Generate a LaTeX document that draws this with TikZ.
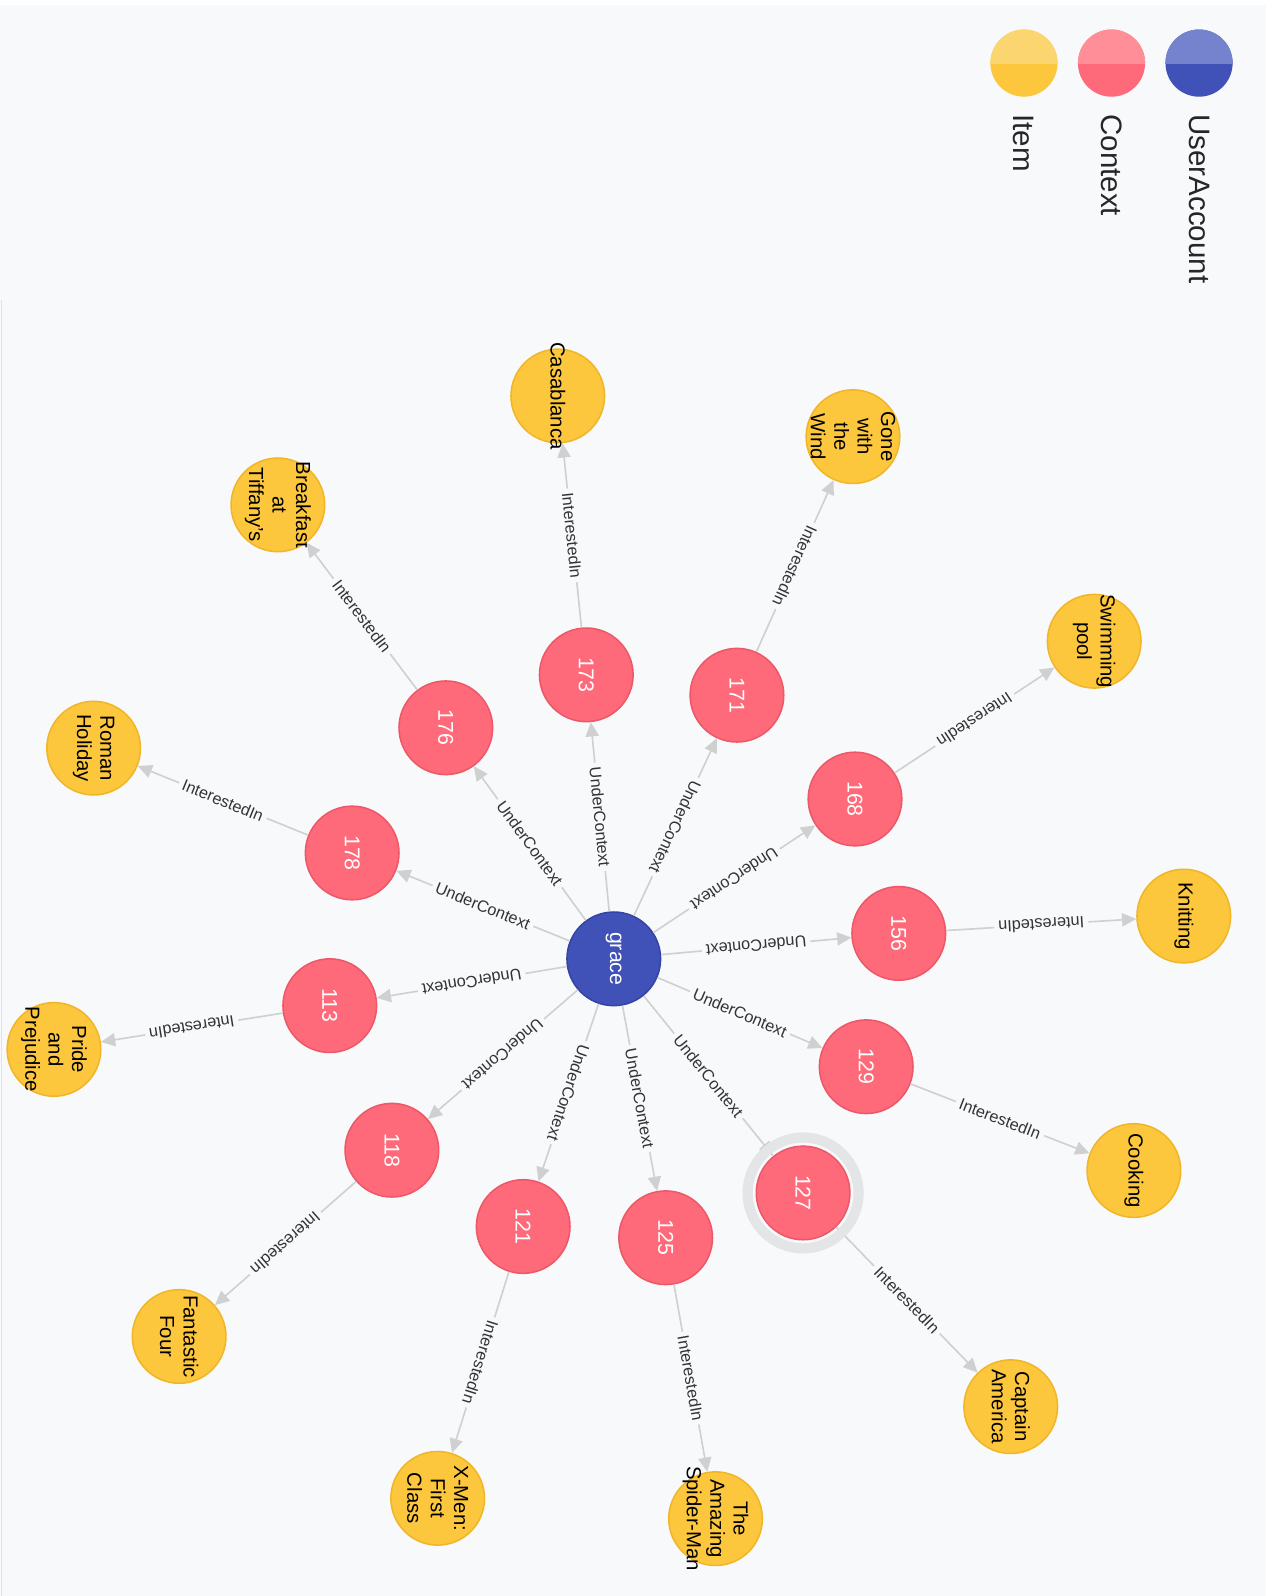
\documentclass[tikz,border=0pt]{standalone}
\usepackage{fontspec}
\setmainfont{Liberation Sans}
\usetikzlibrary{arrows.meta, positioning, calc}
\definecolor{CanvasBg}{RGB}{248,249,250}
\definecolor{ItemFill}{RGB}{252,199,61}
\definecolor{ItemLine}{RGB}{240,182,40}
\definecolor{ItemLight}{RGB}{251,214,112}
\definecolor{CtxFill}{RGB}{255,106,122}
\definecolor{CtxLine}{RGB}{236,88,104}
\definecolor{CtxLight}{RGB}{255,142,153}
\definecolor{UserFill}{RGB}{64,82,183}
\definecolor{UserLine}{RGB}{52,68,164}
\definecolor{UserLight}{RGB}{117,130,206}
\definecolor{RelGray}{RGB}{208,208,208}
\definecolor{RingGray}{RGB}{228,229,231}

\tikzset{
  ctx/.style={circle, minimum size=92pt, inner sep=0pt, fill=CtxFill, draw=CtxLine,
    line width=1.5pt, text=white, rotate=-90, font=\fontsize{21}{24}\selectfont},
  user/.style={ctx, fill=UserFill, draw=UserLine},
  item/.style={circle, minimum size=92pt, inner sep=0pt, fill=ItemFill, draw=ItemLine,
    line width=1.5pt, label={[itemtext]center:{#1}}},
  itemtext/.style={rotate=-90, align=center, inner sep=0pt, text=black,
    font=\fontsize{20}{23}\selectfont},
  rel/.style={draw=RelGray, line width=1.6pt, -{Triangle[length=14pt, width=13pt]}},
  rellabel/.style={midway, fill=CanvasBg, inner xsep=4pt, inner ysep=1pt,
    text=black!80, font=\fontsize{16}{18}\selectfont},
  ring/.style={circle, minimum size=109pt, inner sep=0pt, draw=RingGray, line width=10pt},
  legdot/.style={circle, minimum size=66pt, inner sep=0pt},
  legtext/.style={rotate=-90, inner sep=1pt, text=black!85, font=\fontsize{29}{32}\selectfont}
}

\begin{document}
\begin{tikzpicture}[x=1pt, y=-1pt]
  \useasboundingbox (0,0) rectangle (1244,1568);
  \fill[CanvasBg] (0,0) rectangle (1244,1568);
  \fill[white] (0,0) rectangle (1244,5);
  \draw[RelGray!60, line width=1.5pt] (1.5,295) -- (1.5,1568);

  % legend
  \foreach \nm/\fc/\lc/\px in {Item/ItemFill/ItemLight/1006, Context/CtxFill/CtxLight/1092,
                               UserAccount/UserFill/UserLight/1178} {
    \node[legdot, fill=\fc] (leg\nm) at (\px,62) {};
    \begin{scope}
      \clip ([xshift=-40pt]leg\nm.center) rectangle ([xshift=40pt, yshift=40pt]leg\nm.center);
      \fill[\lc] (leg\nm.center) circle (33pt);
    \end{scope}
    \node[legtext, below=16pt of leg\nm, anchor=west] (leg\nm-t) {\nm};
  }

  \node[user] (grace) at (603,942) {grace};

  \foreach \nm/\px/\py in {156/883/917, 129/851/1048, 127/789/1172, 125/654/1216,
                           121/514/1205, 118/385/1130, 113/324/988, 178/346/838,
                           176/438/715, 173/576/663, 171/724/683, 168/840/785}
    \node[ctx] (c\nm) at (\px,\py) {\nm};

  \foreach \nm/\px/\py/\txt in {knit/1163/900/Knitting, cook/1114/1150/Cooking,
      capam/993/1382/{Captain\\America}, spider/703/1492/{The\\Amazing\\Spider-Man},
      xmen/430/1472/{X-Men:\\First\\Class}, ff/176/1313/{Fantastic\\Four},
      pride/53/1031/{Pride\\and\\Prejudice}, roman/92/735/{Roman\\Holiday},
      bat/273/496/{Breakfast\\at\\Tiffany's}, casa/548/389/Casablanca,
      gone/838/429/{Gone\\with\\the\\Wind}, swim/1075/630/{Swimming\\pool}}
    \node[item=\txt] (\nm) at (\px,\py) {};

  \foreach \src/\dst/\kind in {grace/c156/UnderContext, grace/c129/UnderContext,
      grace/c127/UnderContext, grace/c125/UnderContext, grace/c121/UnderContext,
      grace/c118/UnderContext, grace/c113/UnderContext, grace/c178/UnderContext,
      grace/c176/UnderContext, grace/c173/UnderContext, grace/c171/UnderContext,
      grace/c168/UnderContext,
      c156/knit/InterestedIn, c129/cook/InterestedIn, c127/capam/InterestedIn,
      c125/spider/InterestedIn, c121/xmen/InterestedIn, c118/ff/InterestedIn,
      c113/pride/InterestedIn, c178/roman/InterestedIn, c176/bat/InterestedIn,
      c173/casa/InterestedIn, c171/gone/InterestedIn, c168/swim/InterestedIn}
    \draw[rel] let \p1=($(\dst)-(\src)$), \n1={atan2(\y1,\x1)},
                   \n2={ifthenelse(\n1>0,\n1-180,\n1)} in
      (\src) -- (\dst) node[rellabel, rotate=\n2] {\kind};

  \node[ring] (c127ring) at (c127) {};
\end{tikzpicture}
\end{document}
